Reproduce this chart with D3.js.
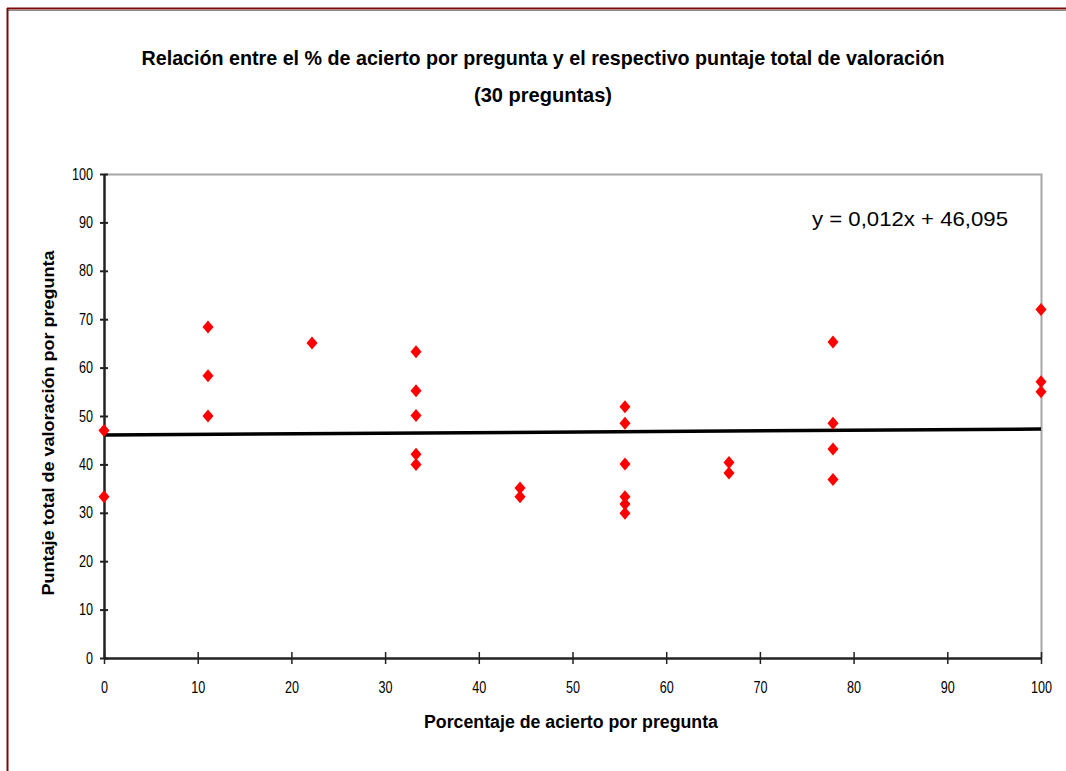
<!DOCTYPE html>
<html><head><meta charset="utf-8">
<script src="https://cdn.jsdelivr.net/npm/d3@7"></script>
<style>
html,body{margin:0;padding:0;background:#fff;}
svg{display:block;}
text{font-family:"Liberation Sans Narrow","Arial Narrow","Liberation Sans",sans-serif;fill:#000;}
</style></head>
<body>
<script>
const titleLines = ["Relación entre el % de acierto por pregunta y el respectivo puntaje total de valoración", "(30 preguntas)"];
const xLabel = "Porcentaje de acierto por pregunta";
const yLabel = "Puntaje total de valoración por pregunta";
const equationText = "y = 0,012x + 46,095";
const xValues = [0,0, 11.1,11.1,11.1, 22.2, 33.3,33.3,33.3,33.3,33.3, 44.4,44.4, 55.6,55.6,55.6,55.6,55.6,55.6, 66.7,66.7, 77.8,77.8,77.8,77.8, 100,100,100];
const yValues = [47,33.3, 68.4,58.3,50.0, 65.1, 63.3,55.2,50.1,42.1,40.0, 35.1,33.3, 51.9,48.5,40.1,33.3,31.8,29.9, 40.4,38.2, 65.3,48.5,43.2,36.9, 72.0,57.1,55.0];
const slope = 0.012, intercept = 46.095;
const xTicks = [0,10,20,30,40,50,60,70,80,90,100];
const yTicks = [0,10,20,30,40,50,60,70,80,90,100];

(function(){
const W = 1066, H = 771;
const svg = d3.select("body").append("svg").attr("width", W).attr("height", H);

// outer frame
svg.append("line").attr("x1",7).attr("x2",W).attr("y1",8.5).attr("y2",8.5).attr("stroke","#7a0a0a").attr("stroke-width",2);
svg.append("line").attr("x1",8).attr("x2",W).attr("y1",10.5).attr("y2",10.5).attr("stroke","#888").attr("stroke-width",1);
svg.append("line").attr("x1",7.5).attr("x2",7.5).attr("y1",8).attr("y2",H).attr("stroke","#7a0a0a").attr("stroke-width",2);

const pl = 104, pr = 1041, pt = 174, pb = 658;
const x = d3.scaleLinear().domain([0,100]).range([pl,pr]);
const y = d3.scaleLinear().domain([0,100]).range([pb,pt]);

// plot area border (gray)
svg.append("path").attr("d", `M${pl},${pt+0.5}H${pr+0.5}V${pb}`).attr("fill","none").attr("stroke","#a6a6a6").attr("stroke-width",2);

// title
svg.append("text").attr("x",543).attr("y",65).attr("text-anchor","middle").attr("font-size",21).attr("font-weight","bold").attr("fill","#222")
  .attr("textLength",803).attr("lengthAdjust","spacingAndGlyphs").text(titleLines[0]);
svg.append("text").attr("x",543).attr("y",102).attr("text-anchor","middle").attr("font-size",21).attr("font-weight","bold").attr("fill","#222")
  .attr("textLength",138).attr("lengthAdjust","spacingAndGlyphs").text(titleLines[1]);

// axes
const yAxis = d3.axisLeft(y).tickValues(yTicks).tickSizeInner(4).tickSizeOuter(0).tickPadding(8);
const gy = svg.append("g").attr("transform",`translate(${pl},0)`).call(yAxis);
gy.selectAll(".tick line").attr("x2",4).attr("x1",-4).attr("stroke","#222").attr("stroke-width",2);
gy.select(".domain").attr("stroke","#222").attr("stroke-width",2.5);
gy.selectAll(".tick text").attr("font-size",16).attr("font-family","Liberation Sans Narrow, Arial Narrow, sans-serif").attr("fill","#222").attr("x",-11)
  .attr("textLength",d=>String(d).length*7).attr("lengthAdjust","spacingAndGlyphs");

const xAxis = d3.axisBottom(x).tickValues(xTicks).tickSizeInner(6).tickSizeOuter(0).tickPadding(8);
const gx = svg.append("g").attr("transform",`translate(0,${pb})`).call(xAxis);
gx.selectAll(".tick line").attr("y1",-6).attr("y2",6).attr("stroke","#222").attr("stroke-width",1.5);
gx.select(".domain").attr("stroke","#222").attr("stroke-width",2.5);
gx.selectAll(".tick text").attr("font-size",16).attr("font-family","Liberation Sans Narrow, Arial Narrow, sans-serif").attr("fill","#222").attr("y",24)
  .attr("textLength",d=>String(d).length*7).attr("lengthAdjust","spacingAndGlyphs");

// axis labels
svg.append("text").attr("x",571).attr("y",728).attr("text-anchor","middle").attr("font-size",18).attr("font-weight","bold")
  .attr("textLength",294).attr("lengthAdjust","spacingAndGlyphs").text(xLabel);
svg.append("text").attr("transform",`translate(54,${423}) rotate(-90)`).attr("text-anchor","middle").attr("font-size",16).attr("font-weight","bold").attr("font-family","Liberation Sans, Arial, sans-serif").attr("textLength",345).attr("lengthAdjust","spacingAndGlyphs").text(yLabel);

// trend line
svg.append("line").attr("x1",x(0)).attr("x2",x(100)).attr("y1",y(intercept)).attr("y2",y(intercept+slope*100)).attr("stroke","#000").attr("stroke-width",3.5);

// points
const pts = xValues.map((v,i)=>({x:v,y:yValues[i]}));
svg.append("g").selectAll("path").data(pts).join("path")
  .attr("d", d=>{const cx=x(d.x), cy=y(d.y); return `M${cx},${cy-6.5}L${cx+5.5},${cy}L${cx},${cy+6.5}L${cx-5.5},${cy}Z`;})
  .attr("fill","#ff0000");

// equation
svg.append("text").attr("x",812).attr("y",226).attr("font-size",21).attr("fill","#222")
  .attr("textLength",196).attr("lengthAdjust","spacingAndGlyphs").text(equationText);
})();
</script>
</body></html>
